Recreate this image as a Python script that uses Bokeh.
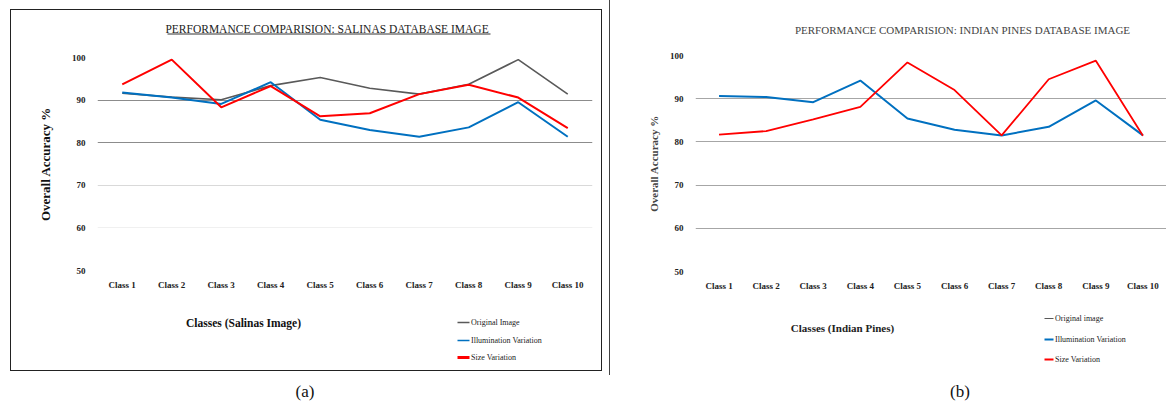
from bokeh.plotting import figure
from bokeh.models import (FactorRange, Range1d, Label, Grid, FixedTicker, Arrow, Div, Spacer)
from bokeh.layouts import row, column
from bokeh.embed import file_html
from bokeh.resources import INLINE

classes = ["Class 1", "Class 2", "Class 3", "Class 4", "Class 5",
           "Class 6", "Class 7", "Class 8", "Class 9", "Class 10"]
y_ticks = [50, 60, 70, 80, 90, 100]

salinas_original = [91.6, 90.7, 90.1, 93.4, 95.3, 92.8, 91.4, 93.7, 99.5, 91.4]
salinas_illumination = [91.8, 90.6, 89.1, 94.2, 85.4, 83.0, 81.4, 83.6, 89.5, 81.4]
salinas_size = [93.7, 99.5, 88.3, 93.3, 86.2, 86.9, 91.4, 93.6, 90.6, 83.4]

pines_original = []  # not visible in the chart
pines_illumination = [90.6, 90.4, 89.2, 94.2, 85.4, 82.8, 81.5, 83.5, 89.6, 81.5]
pines_size = [81.7, 82.5, 85.2, 88.1, 98.4, 92.0, 81.5, 94.5, 98.8, 81.4]

series_names_a = ["Original Image", "Illumination Variation", "Size Variation"]
series_names_b = ["Original image", "Illumination Variation", "Size Variation"]

GRAY, BLUE, RED = "#595959", "#0070C0", "#FF0000"
SERIF = "Liberation Serif"


def blank_fig(width, height, x0, x1):
    """Header/footer strip; its frame is aligned with the chart frame below/above it.
    x is in page pixels (x0..x1 = frame extent), y in local pixels downwards."""
    f = figure(width=width, height=height, x_range=Range1d(x0, x1), y_range=Range1d(height, 0),
               output_backend="svg", toolbar_location=None, x_axis_type=None, y_axis_type=None,
               min_border=0)
    f.grid.visible = False
    f.outline_line_color = None
    f.background_fill_color = None
    f.border_fill_color = None
    return f


def chart_fig(width, height, mbl, mbr, mbt, mbb):
    p = figure(width=width, height=height, x_range=FactorRange(*classes, range_padding=0),
               y_range=Range1d(50, 100), output_backend="svg", toolbar_location=None,
               min_border_left=mbl, min_border_right=mbr, min_border_top=mbt,
               min_border_bottom=mbb)
    p.xgrid.visible = False
    p.ygrid.visible = False
    p.outline_line_color = None
    p.background_fill_color = None
    p.border_fill_color = None
    for ax in (p.xaxis[0], p.yaxis[0]):
        ax.axis_line_color = None
        ax.major_tick_line_color = None
        ax.minor_tick_line_color = None
        ax.major_tick_out = 0
        ax.major_tick_in = 0
        ax.major_label_text_font = SERIF
        ax.major_label_text_font_size = "9px"
        ax.major_label_text_font_style = "bold"
        ax.major_label_text_color = "#222222"
        ax.axis_label_text_font = SERIF
        ax.axis_label_text_font_style = "bold"
    p.yaxis.ticker = FixedTicker(ticks=y_ticks)
    p.yaxis.major_label_standoff = 12
    p.xaxis.major_label_standoff = 9
    return p


def manual_legend(f, names, colors, widths, sw_x0, sw_x1, rows_y):
    for name, c, w, y in zip(names, colors, widths, rows_y):
        f.add_layout(Arrow(x_start=sw_x0, y_start=y, x_end=sw_x1, y_end=y, start=None, end=None,
                           line_color=c, line_width=w))
        f.add_layout(Label(x=sw_x1 + 1.5, y=y, text=name, text_font=SERIF, text_font_size="8px",
                           text_color="#222222", text_align="left", text_baseline="middle"))


# ---------------- left panel (a) ----------------
LX0, LX1 = 97, 592
hL = blank_fig(590, 41, LX0, LX1)
hL.add_layout(Label(x=328, y=18, text="PERFORMANCE COMPARISION:  SALINAS DATABASE IMAGE",
                    text_font=SERIF, text_font_size="11.5px", text_color="#222222",
                    text_align="center", text_baseline="middle"))
hL.add_layout(Arrow(x_start=167, y_start=23.5, x_end=490, y_end=23.5,
                    start=None, end=None, line_color="#333333", line_width=1))

p1 = chart_fig(590, 249, 86, 9, 6, 30)
p1.add_layout(Grid(dimension=1, ticker=FixedTicker(ticks=[80, 90, 100]),
                   grid_line_color="#8c8c8c", grid_line_width=1))
p1.add_layout(Grid(dimension=1, ticker=FixedTicker(ticks=[70]),
                   grid_line_color="#d9d9d9", grid_line_width=1))
p1.add_layout(Grid(dimension=1, ticker=FixedTicker(ticks=[60]),
                   grid_line_color="#f0f0f0", grid_line_width=1))
p1.add_layout(Grid(dimension=1, ticker=FixedTicker(ticks=[50]),
                   grid_line_color="#a6a6a6", grid_line_width=1))
p1.line(classes, salinas_original, line_color=GRAY, line_width=1.6)
p1.line(classes, salinas_illumination, line_color=BLUE, line_width=2)
p1.line(classes, salinas_size, line_color=RED, line_width=2)
p1.yaxis.axis_label = "Overall Accuracy %"
p1.yaxis.axis_label_text_font_size = "13px"
p1.yaxis.axis_label_text_color = "#111111"
p1.yaxis.axis_label_standoff = 16

fL = blank_fig(590, 70, LX0, LX1)
fL.add_layout(Label(x=243, y=22, text="Classes (Salinas Image)",
                    text_font=SERIF, text_font_size="11.5px", text_font_style="bold",
                    text_color="#111111", text_align="center", text_baseline="middle"))
manual_legend(fL, series_names_a, [GRAY, BLUE, RED], [1.5, 1.5, 3], 457, 469, [22, 40, 57])

left_box = column(hL, p1, fL, styles={"border": "1px solid #222222"})

# ---------------- right panel (b) ----------------
RX0, RX1 = 695, 1166
hR = blank_fig(556, 49, RX0, RX1)
hR.add_layout(Label(x=962, y=29, text="PERFORMANCE COMPARISION: INDIAN PINES DATABASE IMAGE",
                    text_font=SERIF, text_font_size="11px", text_color="#444444",
                    text_align="center", text_baseline="middle"))

p2 = chart_fig(556, 252, 85, 0, 6, 30)
p2.add_layout(Grid(dimension=1, ticker=FixedTicker(ticks=[60, 70, 80, 90]),
                   grid_line_color="#a6a6a6", grid_line_width=1))
p2.add_layout(Grid(dimension=1, ticker=FixedTicker(ticks=[50]),
                   grid_line_color="#c8c8c8", grid_line_width=1))
p2.line(x=pines_original, y=pines_original, line_color=GRAY, line_width=1.6)
p2.line(classes, pines_illumination, line_color=BLUE, line_width=2)
p2.line(classes, pines_size, line_color=RED, line_width=1.8)
p2.yaxis.axis_label = "Overall Accuracy %"
p2.yaxis.axis_label_text_font_size = "11px"
p2.yaxis.axis_label_text_color = "#444444"
p2.yaxis.axis_label_standoff = 7

fR = blank_fig(556, 74, RX0, RX1)
fR.add_layout(Label(x=842, y=26, text="Classes (Indian Pines)",
                    text_font=SERIF, text_font_size="11px", text_font_style="bold",
                    text_color="#222222", text_align="center", text_baseline="middle"))
manual_legend(fR, series_names_b, [GRAY, BLUE, RED], [1.2, 2, 1.8], 1044, 1053, [17, 38, 58])

right_box = column(hR, p2, fR, styles={"border-left": "1px solid #444444"})

cap_a = Div(text="(a)", width=600, height=30,
            styles={"text-align": "center", "font-family": SERIF, "font-size": "17px",
                    "line-height": "24px", "color": "#111111"})
cap_b = Div(text="(b)", width=566, height=30,
            styles={"text-indent": "335px", "font-family": SERIF, "font-size": "17px",
                    "line-height": "24px", "color": "#111111"})

layout = column(
    row(Spacer(width=10, height=10), column(Spacer(width=10, height=9), left_box),
        Spacer(width=7, height=10), right_box),
    row(cap_a, cap_b),
)

open("out.html", "w").write(file_html(layout, INLINE))
